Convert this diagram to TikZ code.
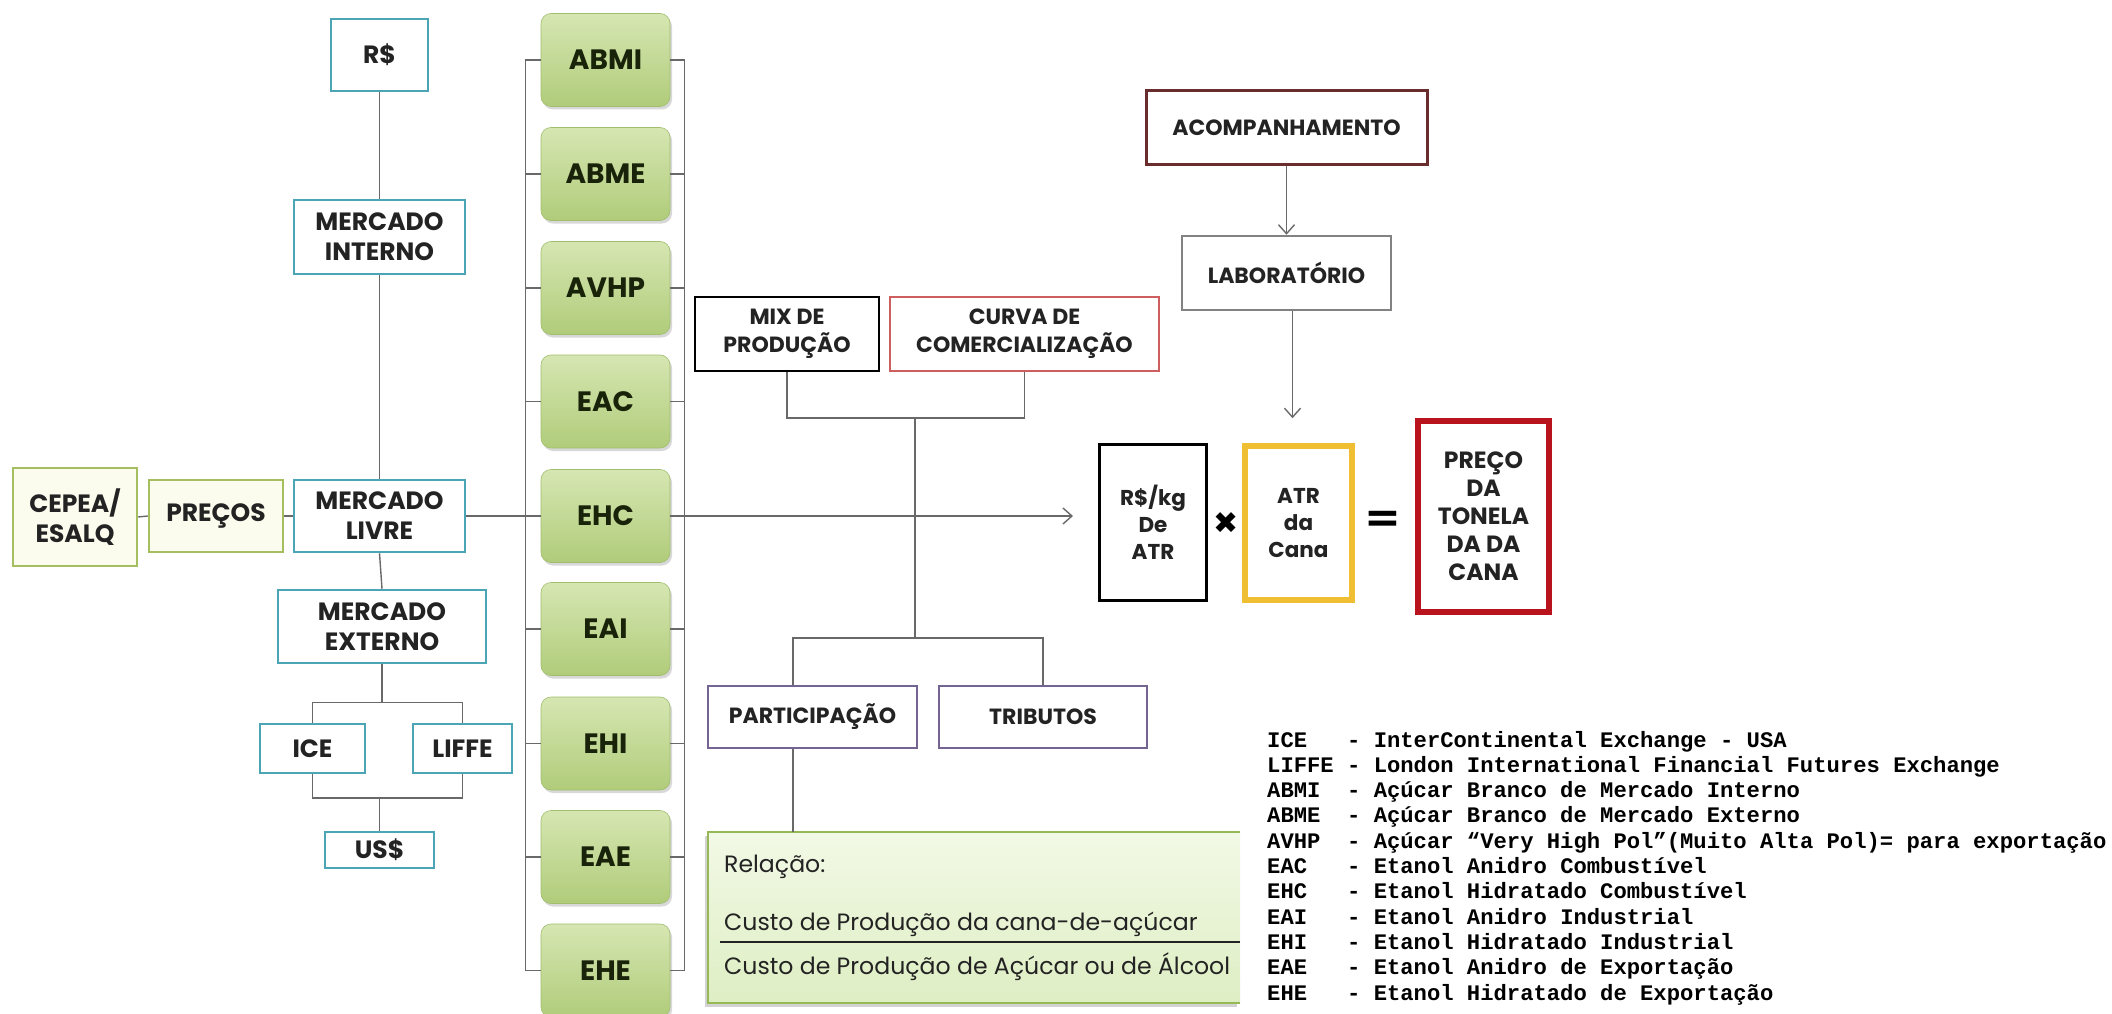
\documentclass[tikz,border=0pt]{standalone}
\usepackage{fontspec}
\setmainfont{Poppins}
\newfontfamily\legendfont{Liberation Mono}
\newfontfamily\symfont{DejaVu Sans}
\usetikzlibrary{arrows.meta,shadows,calc}

\definecolor{cTeal}{RGB}{75,165,180}
\definecolor{cOlive}{RGB}{165,190,95}
\definecolor{cCream}{RGB}{252,252,238}
\definecolor{gTop}{RGB}{214,230,178}
\definecolor{gBot}{RGB}{176,204,122}
\definecolor{gBorder}{RGB}{160,190,110}
\definecolor{gText}{RGB}{25,35,10}
\definecolor{cLine}{RGB}{105,105,105}
\definecolor{cTxt}{RGB}{35,35,35}
\definecolor{cCurva}{RGB}{205,95,95}
\definecolor{cAcomp}{RGB}{105,45,45}
\definecolor{cLab}{RGB}{130,130,130}
\definecolor{cPurple}{RGB}{115,100,145}
\definecolor{cGold}{RGB}{240,190,50}
\definecolor{cCrimson}{RGB}{185,20,30}
\definecolor{rTop}{RGB}{242,249,230}
\definecolor{rBot}{RGB}{222,238,195}
\definecolor{rBorder}{RGB}{150,185,85}

\newcommand\lgline[2]{\makebox[3.6em][l]{#1}- #2}

\tikzset{
  basebox/.style={draw, rectangle, align=center, inner sep=2pt, text=cTxt, fill=white,
    font=\bfseries\fontsize{25}{30}\selectfont},
  tealbox/.style={basebox, draw=cTeal, line width=2.5pt},
  olivebox/.style={basebox, draw=cOlive, line width=2.5pt, fill=cCream},
  midbox/.style={basebox, font=\bfseries\fontsize{22}{28}\selectfont, line width=2.5pt},
  greenbox/.style={rectangle, rounded corners=10pt, top color=gTop, bottom color=gBot,
    draw=gBorder, line width=0.6pt, minimum width=129pt, minimum height=93pt,
    drop shadow={shadow xshift=2pt, shadow yshift=-3pt, opacity=0.3},
    font=\bfseries\fontsize{28}{30}\selectfont, text=gText},
  conn/.style={draw=cLine, line width=1.4pt},
  arr/.style={conn, -{Straight Barb[length=9pt,width=16pt,line width=1.4pt]}},
  legend/.style={anchor=base west, inner sep=0pt, text=black,
    font=\legendfont\bfseries\fontsize{22.2}{25}\selectfont},
  reltext/.style={anchor=west, inner sep=0pt, text=cTxt, font=\fontsize{23.6}{26}\selectfont},
}

\begin{document}
\begin{tikzpicture}[x=1pt,y=-1pt]
\useasboundingbox[fill=white] (0,0) rectangle (2112,1014);

% ---- left column ----
\node[tealbox, minimum width=97pt, minimum height=72pt] (rs) at (379.5,55) {R\$};
\node[tealbox, minimum width=171pt, minimum height=74pt] (mi) at (379.5,237) {MERCADO\\INTERNO};
\node[olivebox, minimum width=124pt, minimum height=98pt] (cepea) at (75,517) {CEPEA/\\ESALQ};
\node[olivebox, minimum width=134pt, minimum height=72pt] (precos) at (216,516) {PREÇOS};
\node[tealbox, minimum width=171pt, minimum height=72pt] (ml) at (379.5,516) {MERCADO\\LIVRE};
\node[tealbox, minimum width=208pt, minimum height=73pt] (me) at (382,626.5) {MERCADO\\EXTERNO};
\node[tealbox, minimum width=105pt, minimum height=49pt] (ice) at (312.5,748.5) {ICE};
\node[tealbox, minimum width=99pt, minimum height=49pt] (liffe) at (462.5,748.5) {LIFFE};
\node[tealbox, minimum width=109pt, minimum height=36pt, inner sep=0pt] (usd) at (379.5,850) {US\$};

\draw[conn] (rs.south) -- (mi.north);
\draw[conn] (mi.south) -- (ml.north);
\draw[conn] (cepea.east) -- (precos.west);
\draw[conn] (precos.east) -- (ml.west);
\draw[conn] (ml.south) -- (me.north);
\draw[conn] (me.south) -- ++(0,38) coordinate (jme);
\draw[conn] (ice.north) |- (jme) -| (liffe.north);
\draw[conn] (ice.south) |- (usd.north |- 0,798) coordinate (jusd) -| (liffe.south);
\draw[conn] (jusd) -- (usd.north);

% ---- green column ----
\node[greenbox] (abmi) at (605.5,60) {ABMI};
\node[greenbox] (abme) at (605.5,174) {ABME};
\node[greenbox] (avhp) at (605.5,288) {AVHP};
\node[greenbox] (eac)  at (605.5,401.5) {EAC};
\node[greenbox] (ehc)  at (605.5,516) {EHC};
\node[greenbox] (eai)  at (605.5,629) {EAI};
\node[greenbox] (ehi)  at (605.5,743.5) {EHI};
\node[greenbox] (eae)  at (605.5,857) {EAE};
\node[greenbox] (ehe)  at (605.5,970.5) {EHE};

\draw[conn] (abmi.west) -- ++(-15,0) |- (ehe.west);
\draw[conn] (abmi.east) -- ++(14,0) |- (ehe.east);
\foreach \n in {abme,avhp,eac,eai,ehi,eae}{
  \draw[conn] (\n.west) -- ++(-15,0);
  \draw[conn] (\n.east) -- ++(14,0);
}
\draw[conn] (ml.east) -- (ehc.west);
\coordinate (ehcend) at (1073,516);
\draw[arr] (ehc.east) -- (ehcend);

% ---- middle ----
\node[midbox, draw=black] (mix) at (787,334) [minimum width=184pt, minimum height=74pt] {MIX DE\\PRODUÇÃO};
\node[midbox, draw=cCurva, line width=2pt] (curva) at (1024.5,334) [minimum width=269pt, minimum height=74pt] {CURVA DE\\COMERCIALIZAÇÃO};
\node[midbox, draw=cPurple] (part) at (812.5,717) [minimum width=209pt, minimum height=62pt] {PARTICIPAÇÃO};
\node[midbox, draw=cPurple] (trib) at (1043,717) [minimum width=208pt, minimum height=62pt] {TRIBUTOS};

\coordinate (j1) at (915,418);
\coordinate (j2) at (915,638);
\draw[conn] (mix.south) |- (j1) -| (curva.south);
\draw[conn] (j1) -- (j2);
\draw[conn] ([xshift=-19.5pt]part.north) |- (j2) -| (trib.north);

\node[rectangle, top color=rTop, bottom color=rBot, minimum width=532pt, minimum height=171pt,
  drop shadow={shadow xshift=-3pt, shadow yshift=-4pt, opacity=0.35}] (rel) at (974,917.5) {};
\draw[draw=rBorder, line width=2.5pt] (rel.north east) -- (rel.north west) -- (rel.south west) -- (rel.south east);
\draw[conn] ([xshift=-19.5pt]part.south) -- ([xshift=-19.5pt]part.south |- rel.north);
\node[reltext] (rel1) at (724,867) {Relação:};
\node[reltext] (rel2) at (724,924) {Custo de Produção da cana-de-açúcar};
\draw[line width=2.2pt, cTxt] (720,942) -- (rel.east |- 0,942);
\node[reltext] (rel3) at (724,967) {Custo de Produção de Açúcar ou de Álcool};

% ---- right ----
\node[midbox, draw=cAcomp, line width=3pt] (acomp) at (1286.5,127.5) [minimum width=281pt, minimum height=73pt] {ACOMPANHAMENTO};
\node[midbox, draw=cLab] (lab) at (1286.5,273) [minimum width=209pt, minimum height=74pt] {LABORATÓRIO};
\draw[arr] (acomp.south) -- (lab.north);
\draw[arr] ([xshift=6pt]lab.south) -- ++(0,107);

\node[midbox, draw=black, line width=3pt, font=\bfseries\fontsize{21.5}{27}\selectfont] (rskg) at (1153,522.5) [minimum width=107pt, minimum height=156pt] {R\$/kg\\De\\ATR};
\node[font=\symfont\fontsize{30}{30}\selectfont, inner sep=0pt] (times) at (1226,523) {✖};
\node[midbox, draw=cGold, line width=6pt, font=\bfseries\fontsize{21.5}{27}\selectfont] (atr) at (1298.5,523) [minimum width=107pt, minimum height=154pt] {ATR\\da\\Cana};
\node[font=\symfont\bfseries\fontsize{44}{44}\selectfont, inner sep=0pt, text=black] (eq) at (1383,522) {=};
\node[midbox, draw=cCrimson, line width=6pt, font=\bfseries\fontsize{23.5}{28}\selectfont] (preco) at (1483.5,516.5) [minimum width=131pt, minimum height=191pt] {PREÇO\\DA\\TONELA\\DA DA\\CANA};

% ---- legend ----
\node[legend] (l1)  at (1267,747)   {\lgline{ICE}{InterContinental Exchange - USA}};
\node[legend] (l2)  at (1267,772.3) {\lgline{LIFFE}{London International Financial Futures Exchange}};
\node[legend] (l3)  at (1267,797.6) {\lgline{ABMI}{Açúcar Branco de Mercado Interno}};
\node[legend] (l4)  at (1267,822.9) {\lgline{ABME}{Açúcar Branco de Mercado Externo}};
\node[legend] (l5)  at (1267,848.2) {\lgline{AVHP}{Açúcar “Very High Pol”(Muito Alta Pol)= para exportação}};
\node[legend] (l6)  at (1267,873.5) {\lgline{EAC}{Etanol Anidro Combustível}};
\node[legend] (l7)  at (1267,898.8) {\lgline{EHC}{Etanol Hidratado Combustível}};
\node[legend] (l8)  at (1267,924.1) {\lgline{EAI}{Etanol Anidro Industrial}};
\node[legend] (l9)  at (1267,949.4) {\lgline{EHI}{Etanol Hidratado Industrial}};
\node[legend] (l10) at (1267,974.7) {\lgline{EAE}{Etanol Anidro de Exportação}};
\node[legend] (l11) at (1267,1000)  {\lgline{EHE}{Etanol Hidratado de Exportação}};
\end{tikzpicture}
\end{document}
